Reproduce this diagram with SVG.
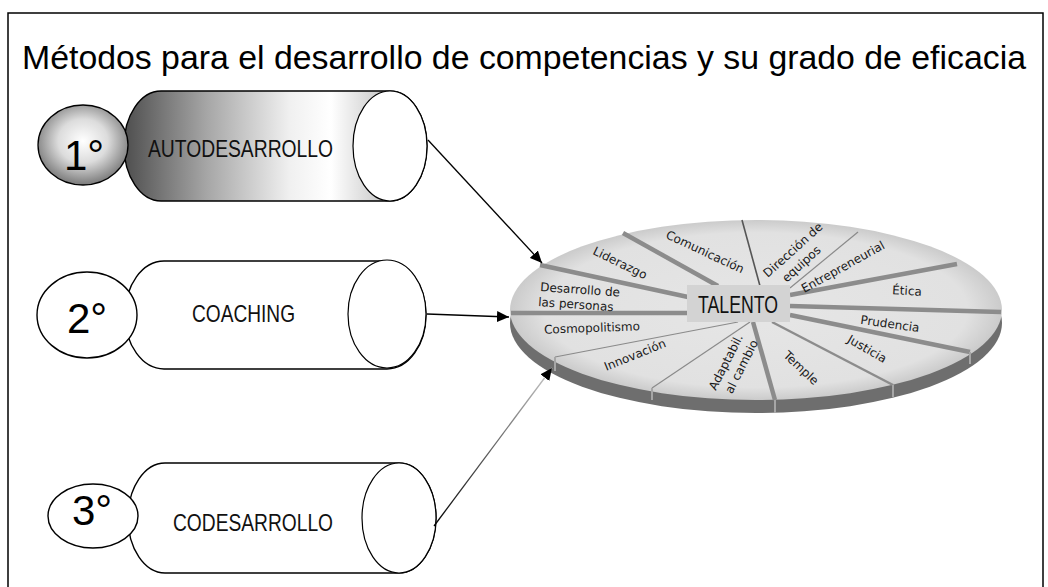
<svg xmlns="http://www.w3.org/2000/svg" width="1048" height="587" viewBox="0 0 1048 587">
<defs>
<style>
.frame{fill:none;stroke:#000;stroke-width:1.5}
.cyl{fill:#fff;stroke:#000;stroke-width:1.4}
.end{fill:#fff;stroke:#000;stroke-width:1.2}
.num{font-family:"Liberation Sans",Arial,sans-serif;font-size:42px;fill:#000}
.lbl{font-family:"Liberation Sans Narrow","Liberation Sans",Arial,sans-serif;font-size:24px;fill:#111}
.title{font-family:"Liberation Sans Narrow","Liberation Sans",Arial,sans-serif;font-size:33px;fill:#000}
.conn{fill:none;stroke:#000;stroke-width:1.3}
.sep{stroke:#8c8c8c;stroke-width:4.5;stroke-linecap:butt}
.sepm{stroke:#8c8c8c;stroke-width:2.5}
.thin{stroke:#8a8a8a;stroke-width:1.2}
.dark{stroke:#555;stroke-width:1.6}
.notch{stroke:#a6a6a6;stroke-width:2}
.w{font-family:"DejaVu Sans",Verdana,sans-serif;font-size:12px;fill:#1a1a1a}
.tal{font-family:"Liberation Sans Narrow","Liberation Sans",Arial,sans-serif;font-size:24px;fill:#111}
</style>
<linearGradient id="g1" gradientUnits="userSpaceOnUse" x1="124" y1="0" x2="400" y2="0">
<stop offset="0" stop-color="#4e4e4e"/>
<stop offset="0.3" stop-color="#a6a6a6"/>
<stop offset="0.6" stop-color="#f0f0f0"/>
<stop offset="0.75" stop-color="#ffffff"/>
<stop offset="1" stop-color="#b8b8b8"/>
</linearGradient>
<radialGradient id="g1n" cx="0.5" cy="0.45" r="0.55">
<stop offset="0" stop-color="#ffffff"/>
<stop offset="0.5" stop-color="#dcdcdc"/>
<stop offset="1" stop-color="#7a7a7a"/>
</radialGradient>
<radialGradient id="disc" gradientUnits="userSpaceOnUse" cx="756" cy="310" r="246" gradientTransform="translate(756,310) scale(1,0.366) translate(-756,-310)">
<stop offset="0" stop-color="#e6e6e6"/>
<stop offset="0.86" stop-color="#e1e1e1"/>
<stop offset="0.93" stop-color="#d6d6d6"/>
<stop offset="1" stop-color="#cbcbcb"/>
</radialGradient>
<linearGradient id="g3" gradientUnits="userSpaceOnUse" x1="434" y1="526" x2="552" y2="368">
<stop offset="0" stop-color="#000"/>
<stop offset="1" stop-color="#c8c8c8"/>
</linearGradient>
<marker id="ah" markerUnits="userSpaceOnUse" markerWidth="12" markerHeight="11" refX="12" refY="5.5" orient="auto">
<path d="M0,0 L12,5.5 L0,11 Z" fill="#000"/>
</marker>
</defs>
<rect width="1048" height="587" fill="#fff"/>
<path class="frame" d="M8,587 V13 H1043 V587"/>
<text class="title" x="22" y="69" textLength="1004" lengthAdjust="spacingAndGlyphs">Métodos para el desarrollo de competencias y su grado de eficacia</text>

<g id="autodesarrollo">
<path d="M161,91 H390 A37,55 0 0 1 390,201 H161 A37,55 0 0 1 161,91 Z" fill="url(#g1)" stroke="#000" stroke-width="1.4"/>
<ellipse class="end" cx="390" cy="146" rx="37" ry="55"/>
<ellipse cx="83" cy="145" rx="45" ry="40" fill="url(#g1n)" stroke="#000" stroke-width="1.3"/>
<text class="num" x="64" y="170">1°</text>
<text class="lbl" x="148" y="157" textLength="185" lengthAdjust="spacingAndGlyphs">AUTODESARROLLO</text>
</g>

<g id="coaching">
<path class="cyl" d="M164,261 H387 A39,54 0 0 1 387,369 H164 A39,54 0 0 1 164,261 Z"/>
<ellipse class="end" cx="387" cy="314" rx="39" ry="54"/>
<ellipse class="cyl" cx="87" cy="315" rx="50" ry="43"/>
<text class="num" x="67" y="333">2°</text>
<text class="lbl" x="192" y="322" textLength="103" lengthAdjust="spacingAndGlyphs">COACHING</text>
</g>

<g id="codesarrollo">
<path class="cyl" d="M165,463 H399 A37,55 0 0 1 399,573 H165 A37,55 0 0 1 165,463 Z"/>
<ellipse class="end" cx="399" cy="518" rx="37" ry="55"/>
<ellipse class="cyl" cx="93" cy="516" rx="45" ry="32"/>
<text class="num" x="72" y="525">3°</text>
<text class="lbl" x="173" y="531" textLength="160" lengthAdjust="spacingAndGlyphs">CODESARROLLO</text>
</g>

<g id="talento">
<ellipse cx="756" cy="323" rx="246" ry="90" fill="#6e6e6e"/>
<ellipse cx="756" cy="310" rx="246" ry="90" fill="url(#disc)"/>
<line class="sep" x1="688" y1="313" x2="511" y2="313"/>
<line class="sep" x1="688" y1="297" x2="540" y2="265"/>
<line class="sep" x1="718" y1="286" x2="623" y2="233"/>
<line class="dark" x1="760" y1="286" x2="742" y2="220"/>
<line class="thin" x1="790" y1="288" x2="858" y2="232" stroke="#9c9c9c"/>
<line class="sep" x1="790" y1="295" x2="957" y2="264"/>
<line class="sep" x1="790" y1="306" x2="1001" y2="312"/>
<line class="sep" x1="790" y1="315" x2="970" y2="352"/>
<line class="sepm" x1="772" y1="322" x2="893" y2="385"/>
<line class="sep" x1="753" y1="322" x2="775" y2="400"/>
<line class="thin" x1="750" y1="322" x2="652" y2="388"/>
<line class="thin" x1="738" y1="322" x2="555" y2="357"/>
<line class="notch" x1="555" y1="357" x2="555" y2="371"/>
<line class="notch" x1="652" y1="388" x2="652" y2="400"/>
<line class="notch" x1="775" y1="400" x2="775" y2="413"/>
<line class="notch" x1="893" y1="385" x2="893" y2="397"/>
<line class="notch" x1="970" y1="352" x2="970" y2="364"/>
<rect x="687" y="285" width="103" height="37" fill="#d3d3d3"/>
<text class="tal" x="698" y="313" textLength="80" lengthAdjust="spacingAndGlyphs">TALENTO</text>
<text class="w" transform="translate(620,263) rotate(26)" text-anchor="middle" y="4">Liderazgo</text>
<text class="w" transform="translate(705,252) rotate(25)" text-anchor="middle" y="4">Comunicación</text>
<text class="w" transform="translate(793,250) rotate(-42)" text-anchor="middle"><tspan x="0" y="4">Dirección de</tspan><tspan x="-3" y="20">equipos</tspan></text>
<text class="w" transform="translate(843,267) rotate(-29)" text-anchor="middle" y="4">Entrepreneurial</text>
<text class="w" transform="translate(907,291) rotate(3)" text-anchor="middle" y="4">Ética</text>
<text class="w" transform="translate(890,324) rotate(8)" text-anchor="middle" y="4">Prudencia</text>
<text class="w" transform="translate(867,349) rotate(30)" text-anchor="middle" y="4">Justicia</text>
<text class="w" transform="translate(801,368) rotate(43)" text-anchor="middle" y="4">Temple</text>
<text class="w" transform="translate(726,362) rotate(-63)" text-anchor="middle"><tspan x="0" y="4">Adaptabil.</tspan><tspan x="3" y="20">al cambio</tspan></text>
<text class="w" transform="translate(635,355) rotate(-22)" text-anchor="middle" y="4">Innovación</text>
<text class="w" transform="translate(592,328) rotate(-2)" text-anchor="middle" y="4">Cosmopolitismo</text>
<text class="w" transform="rotate(4,540,291)"><tspan x="540" y="291">Desarrollo de</tspan><tspan x="539" y="306">las personas</tspan></text>
</g>

<g id="connectors">
<line class="conn" x1="428" y1="140" x2="542" y2="263" marker-end="url(#ah)"/>
<line class="conn" x1="427" y1="314" x2="509" y2="317" marker-end="url(#ah)"/>
<line x1="434" y1="526" x2="552" y2="368" stroke="url(#g3)" stroke-width="1.3" marker-end="url(#ah)"/>
</g>
</svg>
